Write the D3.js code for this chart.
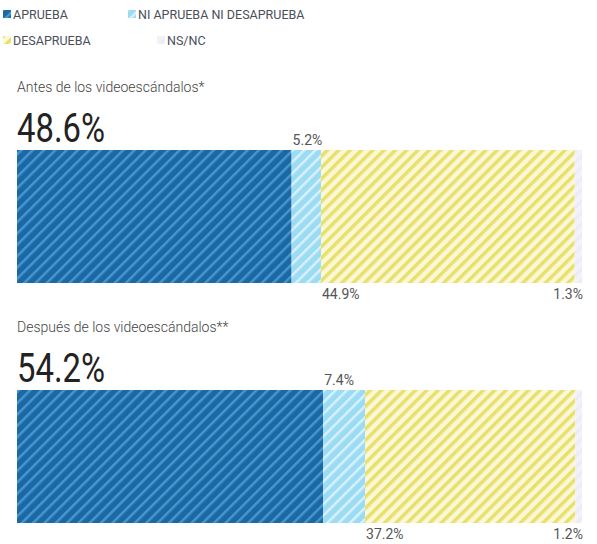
<!DOCTYPE html>
<html><head><meta charset="utf-8">
<script src="https://cdn.jsdelivr.net/npm/d3@7"></script>
<style>body{margin:0;background:#fff}</style>
</head><body>
<script>
const categories = ["APRUEBA", "NI APRUEBA NI DESAPRUEBA", "DESAPRUEBA", "NS/NC"];
const periods = ["Antes de los videoescándalos*", "Después de los videoescándalos**"];
const antes = [48.6, 5.2, 44.9, 1.3];
const despues = [54.2, 7.4, 37.2, 1.2];
const series = [antes, despues];

const W = 597, H = 544;
const svg = d3.select("body").append("svg").attr("width", W).attr("height", H);
const defs = svg.append("defs");
const pats = [
  {base: "#1b68a2", stripe: "#4596d2", sw: 2.5},
  {base: "#9cdbf4", stripe: "#d6f2fc", sw: 2.5},
  {base: "#fbf8d8", stripe: "#e8e06a", sw: 3.5},
  {base: "#f2f2fa", stripe: "#ececf6", sw: 3}
];
pats.forEach((p, i) => {
  const pt = defs.append("pattern").attr("id", "pat" + i).attr("patternUnits", "userSpaceOnUse")
    .attr("width", 8).attr("height", 8).attr("patternTransform", "rotate(45)");
  pt.append("rect").attr("width", 8).attr("height", 8).attr("fill", p.base);
  pt.append("rect").attr("width", p.sw).attr("height", 8).attr("fill", p.stripe);
});

const font = "Roboto, sans-serif";

// legend
const legPos = [[3, 19], [128, 19], [3, 45], [157, 45]];
categories.forEach((c, i) => {
  const g = svg.append("g").attr("transform", `translate(${legPos[i][0]},${legPos[i][1]})`);
  g.append("rect").attr("x", 0).attr("y", -9).attr("width", 8).attr("height", 8).attr("fill", "url(#pat" + i + ")");
  g.append("text").attr("x", 10).attr("y", 0).text(c)
    .attr("font-family", font).attr("font-size", 12.5).attr("fill", "#4a4f5a");
});

const x = d3.scaleLinear().domain([0, 100]).range([17, 582]);
const tops = [150, 390];
const bh = 133;

series.forEach((vals, k) => {
  const y0 = tops[k];
  const cum = d3.cumsum(vals);
  const starts = [0, ...cum.slice(0, -1)];
  svg.append("text").attr("x", 17).attr("y", y0 - 58).text(periods[k])
    .attr("font-family", font).attr("font-size", 14).attr("font-weight", 300).attr("fill", "#444");
  svg.selectAll(null).data(vals).enter().append("rect")
    .attr("x", (d, i) => x(starts[i])).attr("y", y0)
    .attr("width", (d, i) => x(cum[i]) - x(starts[i])).attr("height", bh)
    .attr("fill", (d, i) => "url(#pat" + i + ")");
  // big label
  svg.append("text").attr("x", 17).attr("y", y0 - 8).text(vals[0].toFixed(1) + "%")
    .attr("font-family", font).attr("font-size", 41).attr("fill", "#222")
    .attr("textLength", 88).attr("lengthAdjust", "spacingAndGlyphs");
  svg.append("text").attr("x", x(starts[1]) + 1).attr("y", y0 - 5).text(vals[1].toFixed(1) + "%")
    .attr("font-family", font).attr("font-size", 14).attr("fill", "#555");
  svg.append("text").attr("x", x(starts[2]) + 1).attr("y", y0 + bh + 16).text(vals[2].toFixed(1) + "%")
    .attr("font-family", font).attr("font-size", 14).attr("fill", "#555");
  svg.append("text").attr("x", x(100) + 1).attr("y", y0 + bh + 16).attr("text-anchor", "end").text(vals[3].toFixed(1) + "%")
    .attr("font-family", font).attr("font-size", 14).attr("fill", "#555");
});
</script>
</body></html>
